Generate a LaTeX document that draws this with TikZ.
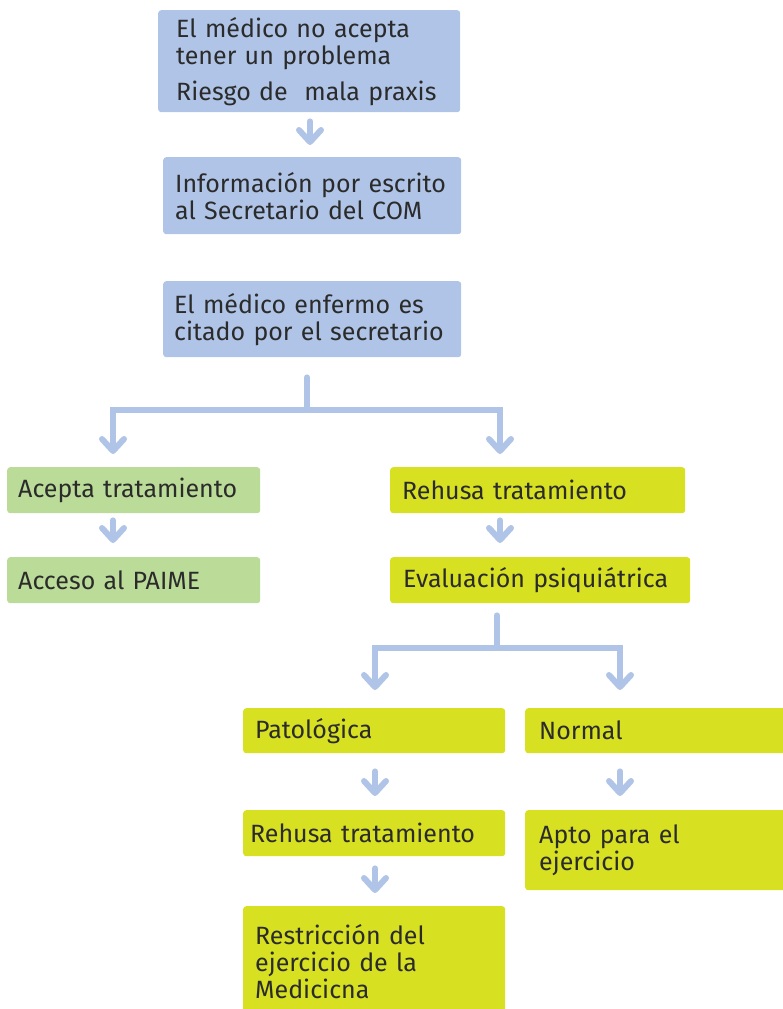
\documentclass[tikz,border=0pt]{standalone}
\usepackage{fontspec}
\setmainfont{Fira Sans}
\usetikzlibrary{arrows.meta}
\definecolor{cblue}{HTML}{AFC4E6}
\definecolor{cgreen}{HTML}{BBDB98}
\definecolor{cyellow}{HTML}{D7E021}
\definecolor{ctext}{HTML}{2B2B2B}
\newcommand\flowbox[8]{%
 \pgfmathsetmacro\fbW{#4-#2}\pgfmathsetmacro\fbH{#5-#3}\pgfmathsetmacro\fbT{#4-#2-2*#7}%
 \node[box, fill=#6, inner xsep=#7pt, minimum width=\fbW pt, minimum height=\fbH pt, text width=\fbT pt, anchor=north west] (#1) at (#2,#3) {#8};}
\begin{document}
\begin{tikzpicture}[x=1pt,y=-1pt,
  box/.style={rectangle, rounded corners=3pt, inner ysep=0pt, align=left, text=ctext, font=\fontsize{25}{27}\selectfont},
  conn/.style={draw=cblue, line width=6pt, line cap=round, line join=miter},
  arr/.style={conn, -{Straight Barb[length=12pt,width=22pt,line cap=round,line join=round]}}]
\useasboundingbox (0,0) rectangle (782,1009);
\flowbox{b1}{158}{10}{460}{112}{cblue}{18}{El médico no acepta\\tener un problema\\[9pt]Riesgo de \ mala praxis}
\flowbox{b2}{163}{157}{461}{234}{cblue}{12}{Información por escrito\\al Secretario del COM}
\flowbox{b3}{163}{281}{461}{357}{cblue}{11}{El médico enfermo es\\citado por el secretario}
\flowbox{acepta}{7}{467}{260}{513}{cgreen}{11}{Acepta tratamiento}
\flowbox{paime}{7}{557}{260}{603}{cgreen}{11}{Acceso al PAIME}
\flowbox{rehusa1}{390}{467}{685}{513}{cyellow}{12}{Rehusa tratamiento}
\flowbox{eval}{390}{557}{690}{603}{cyellow}{13}{Evaluación psiquiátrica}
\flowbox{pato}{243}{708}{505}{753}{cyellow}{12}{Patológica}
\flowbox{normal}{525}{708}{792}{753}{cyellow}{14}{Normal}
\flowbox{rehusa2}{243}{810}{505}{856}{cyellow}{7}{Rehusa tratamiento}
\flowbox{apto}{525}{810}{792}{890}{cyellow}{14}{Apto para el\\ejercicio}
\flowbox{restr}{243}{906}{505}{1016}{cyellow}{12}{Restricción del\\ejercicio de la\\Medicicna}
% column coordinates
\coordinate (c1) at (310,0);
\coordinate (cL) at (113,0);
\coordinate (cR) at (500,0);
\coordinate (cP) at (375,0);
\coordinate (cN) at (620,0);
\coordinate (j1) at (307,410);
\coordinate (j2) at (497,648);
% arrows
\draw[arr] ([yshift=-9pt]b1.south -| c1) -- ([yshift=12pt]b2.north -| c1);
\draw[conn] ([yshift=-20pt]b3.south -| j1) -- (j1);
\draw[arr] (j1) -| ([yshift=13pt]acepta.north -| cL);
\draw[arr] (j1) -| ([yshift=13pt]rehusa1.north -| cR);
\draw[arr] ([yshift=-7pt]acepta.south -| cL) -- ([yshift=14pt]paime.north -| cL);
\draw[arr] ([yshift=-7pt]rehusa1.south -| cR) -- ([yshift=14pt]eval.north -| cR);
\draw[conn] ([yshift=-12pt]eval.south -| j2) -- (j2);
\draw[arr] (j2) -| ([yshift=18pt]pato.north -| cP);
\draw[arr] (j2) -| ([yshift=18pt]normal.north -| cN);
\draw[arr] ([yshift=-18pt]pato.south -| cP) -- ([yshift=14pt]rehusa2.north -| cP);
\draw[arr] ([yshift=-18pt]normal.south -| cN) -- ([yshift=14pt]apto.north -| cN);
\draw[arr] ([yshift=-12pt]rehusa2.south -| cP) -- ([yshift=13pt]restr.north -| cP);
\end{tikzpicture}
\end{document}
